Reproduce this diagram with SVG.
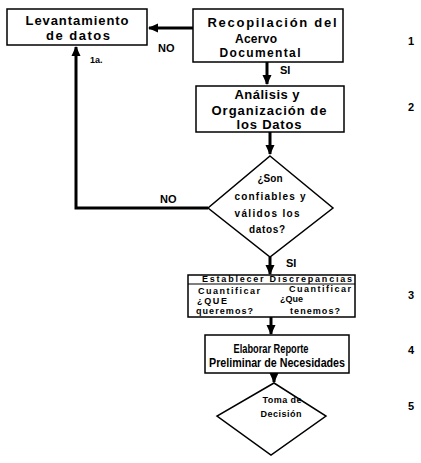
<svg xmlns="http://www.w3.org/2000/svg" width="421" height="463" viewBox="0 0 421 463">
<defs>
<marker id="ah" markerUnits="userSpaceOnUse" markerWidth="10" markerHeight="10" viewBox="0 0 10 10" refX="9" refY="5" orient="auto">
<path d="M0,0.5 L10,5 L0,9.5 Z" fill="#000"/>
</marker>
</defs>
<style>
.box{fill:#fff;stroke:#000;stroke-width:1.5}
.con{fill:none;stroke:#000;stroke-width:3}
text{font-family:"Liberation Sans",Arial,sans-serif;font-weight:bold;fill:#000}
.t13{font-size:13px;text-anchor:middle}
.t12{font-size:12px;text-anchor:middle}
.t10{font-size:10px;text-anchor:middle}
.t9{font-size:9px}
.t9c{font-size:9px;text-anchor:middle}
.lbl{font-size:11px}
.num{font-size:11px}
.cond{font-size:12px;text-anchor:middle}
</style>
<rect width="421" height="463" fill="#fff"/>
<g id="connectors">
<path class="con" d="M193,28 L149,28" marker-end="url(#ah)"/>
<path class="con" d="M267,62 L267,84" marker-end="url(#ah)"/>
<path class="con" d="M270,132 L270,154" marker-end="url(#ah)"/>
<path class="con" d="M208,208 L76,208 L76,47" marker-end="url(#ah)"/>
<path class="con" d="M270,257 L270,274" marker-end="url(#ah)"/>
<path class="con" d="M271,317 L271,334" marker-end="url(#ah)"/>
<path class="con" d="M274,373 L274,382" marker-end="url(#ah)"/>
<text class="lbl" x="158" y="52">NO</text>
<text class="lbl" x="280" y="74">SI</text>
<text class="t9" x="90" y="63">1a.</text>
<text class="lbl" x="160" y="203">NO</text>
<text class="lbl" x="286" y="267">SI</text>
</g>
<g id="levantamiento">
<rect class="box" x="7" y="9" width="140" height="36"/>
<text class="t13" x="77" y="25" textLength="103">Levantamiento</text>
<text class="t13" x="78" y="40" textLength="64">de datos</text>
</g>
<g id="recopilacion">
<rect class="box" x="193" y="9" width="150" height="53"/>
<text class="t13" x="272" y="27" textLength="129">Recopilación del</text>
<text class="t12" x="256" y="43" textLength="42">Acervo</text>
<text class="t12" x="260" y="57" textLength="81">Documental</text>
</g>
<g id="analisis">
<rect class="box" x="196" y="86" width="148" height="46"/>
<text class="t13" x="267" y="99" textLength="65">Análisis y</text>
<text class="t13" x="269" y="115" textLength="115">Organización de</text>
<text class="t13" x="269" y="129" textLength="65">los Datos</text>
</g>
<g id="decision1">
<path class="box" d="M270,156 L333,208 L270,257 L208,208 Z"/>
<text class="t10" x="270" y="182" textLength="25">¿Son</text>
<text class="t10" x="270" y="200" textLength="71">confiables y</text>
<text class="t10" x="267" y="217" textLength="65">válidos los</text>
<text class="t10" x="267" y="233" textLength="36">datos?</text>
</g>
<g id="discrepancias">
<rect class="box" x="188" y="275" width="167" height="42"/>
<line x1="188" y1="284" x2="355" y2="284" stroke="#000" stroke-width="1.2"/>
<text class="t9" x="202" y="282" textLength="150">Establecer Discrepancias</text>
<text class="t9" x="198" y="294" textLength="62">Cuantificar</text>
<text class="t9" x="197" y="304" textLength="30">¿QUE</text>
<text class="t9" x="196" y="314" textLength="57">queremos?</text>
<text class="t9" x="289" y="292" textLength="62">Cuantificar</text>
<text class="t9" x="280" y="302" textLength="23">¿Que</text>
<text class="t9" x="290" y="314" textLength="50">tenemos?</text>
</g>
<g id="reporte">
<rect class="box" x="205" y="335" width="144" height="38"/>
<text class="cond" x="271" y="353" textLength="75" lengthAdjust="spacingAndGlyphs">Elaborar Reporte</text>
<text class="cond" x="277" y="367" textLength="136" lengthAdjust="spacingAndGlyphs">Preliminar de Necesidades</text>
</g>
<g id="decision2">
<path class="box" d="M274,383 L326,416 L271,455 L217,416 Z"/>
<text class="t9c" x="282" y="403" textLength="39">Toma de</text>
<text class="t9c" x="281" y="417" textLength="41">Decisión</text>
</g>
<g id="numbers">
<text class="num" x="408" y="45">1</text>
<text class="num" x="408" y="111">2</text>
<text class="num" x="408" y="299">3</text>
<text class="num" x="408" y="354">4</text>
<text class="num" x="408" y="410">5</text>
</g>
</svg>
